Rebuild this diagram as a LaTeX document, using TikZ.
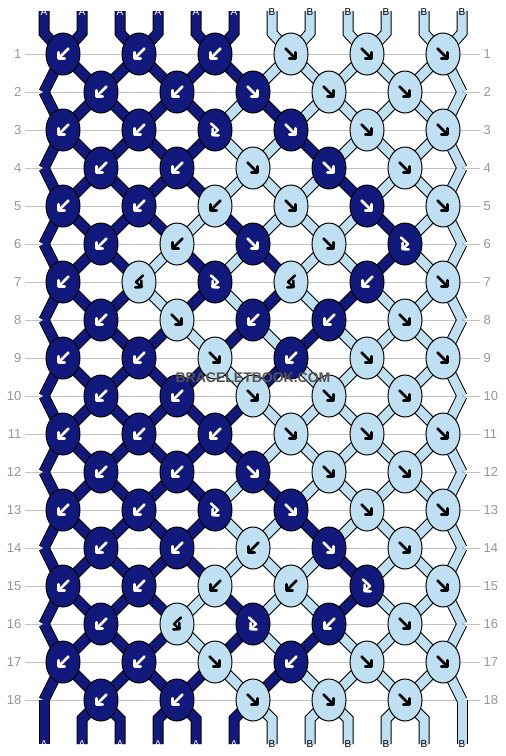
\documentclass[tikz,border=0pt]{standalone}
\usepackage{fontspec}
\setmainfont{Liberation Sans}
\usepackage{tikz}
\usetikzlibrary{arrows.meta,shapes.geometric,calc}
\definecolor{cD}{RGB}{18,25,125}
\definecolor{cL}{RGB}{190,224,242}
\definecolor{aD}{RGB}{255,255,255}
\definecolor{aL}{RGB}{0,0,0}
\definecolor{numgrey}{RGB}{150,150,150}
\definecolor{linegrey}{RGB}{195,195,195}
\definecolor{wmgrey}{RGB}{85,85,85}
\pgfdeclarelayer{bg}
\pgfsetlayers{bg,main}
\tikzset{
  knot/.style={ellipse,draw=black,line width=1pt,minimum width=34pt,minimum height=42pt,inner sep=0pt},
  kar/.style={line width=2.5pt,line cap=round,line join=round,-{Straight Barb[length=4.5pt,width=9pt,round]}},
  tout/.style={line width=11pt,draw=black},
  tin/.style={line width=9pt,draw=#1},
  endlbl/.style={font=\fontsize{10}{10}\selectfont,inner sep=0pt},
  rowlbl/.style={font=\fontsize{13}{13}\selectfont,text=numgrey,inner sep=3.5pt},
  rowline/.style={draw=linegrey,line width=1pt},
  wmark/.style={font=\fontsize{14}{14}\selectfont\bfseries,inner sep=0pt},
  pics/tb/.style={code={\draw[kar] (5.5,-5.5) -- (-5.5,5.5);}},
  pics/tf/.style={code={\draw[kar] (-5.5,-5.5) -- (5.5,5.5);}},
  pics/tF/.style={code={\draw[kar] (-4,-6.5) -- (3,0) -- (-3.5,6);}},
  pics/tB/.style={code={\draw[kar] (4,-6.5) -- (-3,0) -- (3.5,6);}},
}
\newcommand\threads[1]{%
  \foreach \kc [count=\pos] in {D,D,D,D,D,D,L,L,L,L,L,L} {
    \pgfmathtruncatemacro\ka{int((\pos+1)/2)}
    \draw[#1=c\kc] (t-\pos) -- (tb-\pos) -- (k-1-\ka.center);
  }
  \foreach \rw/\st in {1/{D,D,D,D,D,D,L,L,L,L,L,L},2/{D,D,D,D,D,L,D,L,L,L,L,L},
      3/{D,D,D,D,D,L,L,D,L,L,L,L},4/{D,D,D,D,D,L,L,L,D,L,L,L},
      5/{D,D,D,D,L,D,L,L,L,D,L,L},6/{D,D,D,L,D,L,D,L,L,D,L,L},
      7/{D,D,D,L,D,L,D,L,D,L,L,L},8/{D,D,D,D,L,D,L,D,L,L,L,L},
      9/{D,D,D,D,D,L,D,L,L,L,L,L},10/{D,D,D,D,D,D,L,L,L,L,L,L},
      11/{D,D,D,D,D,D,L,L,L,L,L,L},12/{D,D,D,D,D,L,D,L,L,L,L,L},
      13/{D,D,D,D,D,L,L,D,L,L,L,L},14/{D,D,D,D,D,L,L,L,D,L,L,L},
      15/{D,D,D,D,L,D,L,L,D,L,L,L},16/{D,D,D,D,L,D,L,D,L,L,L,L},
      17/{D,D,D,D,D,L,D,L,L,L,L,L}} {
    \pgfmathtruncatemacro\rn{\rw+1}
    \pgfmathtruncatemacro\odd{mod(\rw,2)}
    \foreach \kc [count=\pos] in \st {
      \pgfmathtruncatemacro\ka{int((\pos+\odd)/2)}
      \pgfmathtruncatemacro\kb{int((\pos+1-\odd)/2)}
      \draw[#1=c\kc] (k-\rw-\ka.center) -- (k-\rn-\kb.center);
    }
  }
  \foreach \kc [count=\pos] in {D,D,D,D,D,D,L,L,L,L,L,L} {
    \pgfmathtruncatemacro\kb{int(\pos/2)}
    \draw[#1=c\kc] (k-18-\kb.center) -- (bb-\pos) -- (b-\pos);
  }
}
\begin{document}
\begin{tikzpicture}[x=1pt,y=-1pt,line cap=round,line join=round]
\useasboundingbox (0,0) rectangle (506,756);

\foreach \rw/\row in {1/{D/b,D/b,D/b,L/f,L/f,L/f},2/{D/b,D/b,D/f,L/f,L/f},
    3/{D/b,D/b,D/F,D/f,L/f,L/f},4/{D/b,D/b,L/f,D/f,L/f},
    5/{D/b,D/b,L/b,L/f,D/f,L/f},6/{D/b,L/b,D/f,L/f,D/F},
    7/{D/b,L/B,D/F,L/B,D/b,L/f},8/{D/b,L/f,D/b,D/b,L/f},
    9/{D/b,D/b,L/f,D/b,L/f,L/f},10/{D/b,D/b,L/f,L/f,L/f},
    11/{D/b,D/b,D/b,L/f,L/f,L/f},12/{D/b,D/b,D/f,L/f,L/f},
    13/{D/b,D/b,D/F,D/f,L/f,L/f},14/{D/b,D/b,L/b,D/f,L/f},
    15/{D/b,D/b,L/b,L/b,D/F,L/f},16/{D/b,L/B,D/F,D/b,L/f},
    17/{D/b,D/b,L/f,D/b,L/f,L/f},18/{D/b,D/b,L/f,L/f,L/f}} {
  \pgfmathtruncatemacro\odd{mod(\rw,2)}
  \foreach \kc/\kt [count=\kn] in \row {
    \pgfmathsetmacro\kx{\odd==1 ? 63+76*(\kn-1) : 101+76*(\kn-1)}
    \node[knot,fill=c\kc] (k-\rw-\kn) at (\kx,16+38*\rw) {};
    \pic[color=a\kc] at (k-\rw-\kn) {t\kt};
  }
}
\foreach \rw in {2,4,...,18} {
  \coordinate (k-\rw-0) at (44,16+38*\rw);
  \coordinate (k-\rw-6) at (462,16+38*\rw);
}
\foreach \kc/\s [count=\pos] in {D/A,D/A,D/A,D/A,D/A,D/A,L/B,L/B,L/B,L/B,L/B,L/B} {
  \coordinate (t-\pos) at (6+38*\pos,11);
  \coordinate (tb-\pos) at (6+38*\pos,33);
  \coordinate (bb-\pos) at (6+38*\pos,719);
  \coordinate (b-\pos) at (6+38*\pos,744);
  \node[endlbl,text=a\kc] (ta-\pos) at (6+38*\pos,12) {\s};
  \node[endlbl,text=a\kc] (ba-\pos) at (b-\pos) {\s};
}
\foreach \rw in {1,...,18} {
  \node[rowlbl,anchor=east] (ln-\rw) at (25,16+38*\rw) {\rw};
  \node[rowlbl,anchor=west] (rn-\rw) at (480,16+38*\rw) {\rw};
}

\begin{pgfonlayer}{bg}
\foreach \rw in {1,...,18} \draw[rowline] (ln-\rw) -- (rn-\rw);
\threads{tout}
\threads{tin}
\end{pgfonlayer}

\node[wmark,text=wmgrey] (wm) at (253,378) {BRACELETBOOK.COM};
\end{tikzpicture}
\end{document}
